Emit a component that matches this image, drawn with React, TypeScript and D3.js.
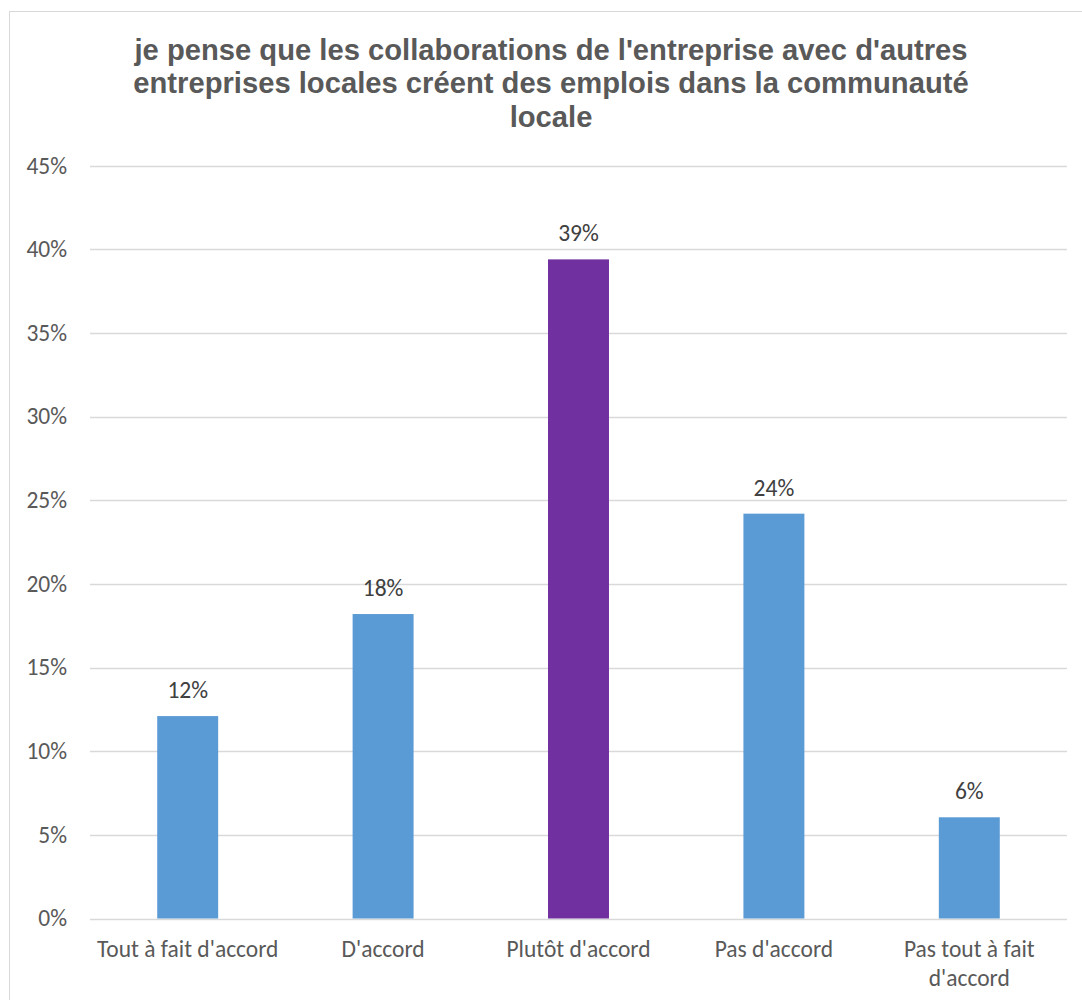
import React, { useEffect, useRef } from "react";
import * as d3 from "d3";

const TITLE_LINES = [
  "je pense que les collaborations de l'entreprise avec d'autres",
  "entreprises locales créent des emplois dans la communauté",
  "locale",
];
const CATEGORIES = [
  "Tout à fait d'accord",
  "D'accord",
  "Plutôt d'accord",
  "Pas d'accord",
  "Pas tout à fait d'accord",
];
const VALUES = [0.121, 0.182, 0.394, 0.242, 0.0605];
const COLORS = ["#5B9BD5", "#5B9BD5", "#7030A0", "#5B9BD5", "#5B9BD5"];
const Y_TICKS = [0, 0.05, 0.1, 0.15, 0.2, 0.25, 0.3, 0.35, 0.4, 0.45];

const W = 1082;
const H = 1000;
const AXIS_FONT = "Carlito, Calibri, Lato, 'Open Sans', sans-serif";
const TITLE_FONT = "'Liberation Sans', Arial, sans-serif";
const AXIS_SIZE = 23.5;

export default function App() {
  const ref = useRef<SVGSVGElement | null>(null);

  useEffect(() => {
    const svg = d3.select(ref.current);
    svg.selectAll("*").remove();

    const x = d3.scaleBand<string>().domain(CATEGORIES).range([90, 1067]).paddingInner(0.688).paddingOuter(0.344);
    const y = d3.scaleLinear().domain([0, 0.45]).range([918.5, 165.7]);

    // chart border
    svg.append("rect")
      .attr("x", 9.5).attr("y", 11.5)
      .attr("width", W + 20).attr("height", H + 20)
      .attr("fill", "#fff").attr("stroke", "#D9D9D9").attr("stroke-width", 1);

    // title
    const title = svg.append("text")
      .attr("text-anchor", "middle")
      .attr("font-family", TITLE_FONT)
      .attr("font-weight", "bold")
      .attr("font-size", 29.2)
      .attr("fill", "#595959");
    TITLE_LINES.forEach((t, i) => {
      title.append("tspan").attr("x", 551).attr("y", 59.5 + i * 33.5).text(t);
    });

    // gridlines
    svg.append("g").selectAll("line").data(Y_TICKS).join("line")
      .attr("x1", 90).attr("x2", 1067)
      .attr("y1", d => Math.round(y(d)) + 0.5).attr("y2", d => Math.round(y(d)) + 0.5)
      .attr("stroke", "#D9D9D9").attr("stroke-width", 1.5);

    // y tick labels
    const fmt = d3.format(".0%");
    svg.append("g").selectAll("text").data(Y_TICKS).join("text")
      .attr("x", 67).attr("y", d => y(d) + 7.8)
      .attr("text-anchor", "end")
      .attr("font-family", AXIS_FONT).attr("font-size", AXIS_SIZE)
      .attr("fill", "#595959")
      .text(d => fmt(d));

    // bars
    svg.append("g").selectAll("rect").data(VALUES).join("rect")
      .attr("x", (_, i) => x(CATEGORIES[i])!)
      .attr("width", x.bandwidth())
      .attr("y", d => y(d))
      .attr("height", d => y(0) - y(d))
      .attr("fill", (_, i) => COLORS[i]);

    // data labels
    svg.append("g").selectAll("text").data(VALUES).join("text")
      .attr("x", (_, i) => x(CATEGORIES[i])! + x.bandwidth() / 2)
      .attr("y", d => y(d) - 18)
      .attr("text-anchor", "middle")
      .attr("font-family", AXIS_FONT).attr("font-size", AXIS_SIZE)
      .attr("fill", "#404040")
      .text(d => fmt(d));

    // x labels with wrapping
    const maxW = x.step() - 4;
    CATEGORIES.forEach((cat) => {
      const cx = x(cat)! + x.bandwidth() / 2;
      const t = svg.append("text")
        .attr("text-anchor", "middle")
        .attr("font-family", AXIS_FONT).attr("font-size", AXIS_SIZE)
        .attr("fill", "#595959");
      const words = cat.split(" ");
      let line: string[] = [];
      let lineNo = 0;
      let tspan = t.append("tspan").attr("x", cx).attr("y", 957);
      words.forEach((w) => {
        line.push(w);
        tspan.text(line.join(" "));
        const len = (tspan.node() as SVGTSpanElement).getComputedTextLength();
        if (len > maxW && line.length > 1) {
          line.pop();
          tspan.text(line.join(" "));
          line = [w];
          lineNo += 1;
          tspan = t.append("tspan").attr("x", cx).attr("y", 957 + lineNo * 28.5).text(w);
        }
      });
    });
  }, []);

  return (
    <svg
      ref={ref}
      width={W}
      height={H}
      style={{ position: "absolute", left: 0, top: 0, display: "block", background: "#fff" }}
    />
  );
}
